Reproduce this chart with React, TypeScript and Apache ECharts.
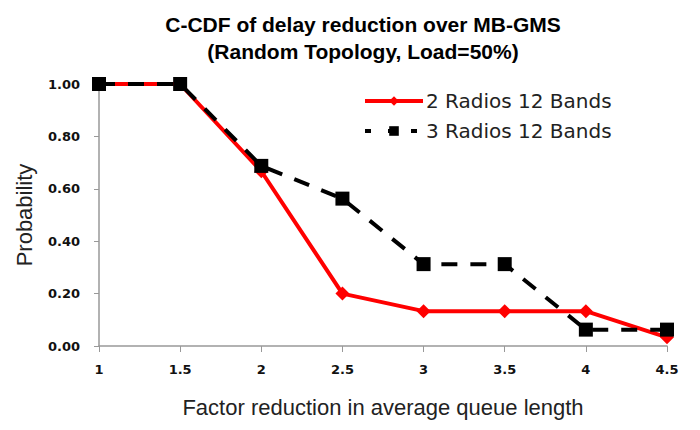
import React, { useEffect, useRef } from "react";
import * as echarts from "echarts";

const xValues = [1, 1.5, 2, 2.5, 3, 3.5, 4, 4.5];
const series2Radios = [1.0, 1.0, 0.667, 0.2, 0.133, 0.133, 0.133, 0.033];
const series3Radios = [1.0, 1.0, 0.6875, 0.5625, 0.3125, 0.3125, 0.0625, 0.0625];
const seriesNames = ["2 Radios 12 Bands", "3 Radios 12 Bands"];
const titleLines = ["C-CDF of delay reduction over MB-GMS", "(Random Topology, Load=50%)"];

export default function App() {
  const ref = useRef<HTMLDivElement>(null);
  useEffect(() => {
    if (!ref.current) return;
    const chart = echarts.init(ref.current, null, { renderer: "svg" });
    chart.setOption({
      animation: false,
      backgroundColor: "#ffffff",
      textStyle: { fontFamily: "DejaVu Sans, sans-serif" },
      title: {
        text: titleLines.join("\n"),
        left: 358,
        textAlign: "center",
        top: 6,
        textStyle: { fontSize: 21, fontWeight: "bold", color: "#000", lineHeight: 27, fontFamily: "Liberation Sans, Arial, sans-serif" },
      },
      legend: {
        orient: "vertical",
        left: 358,
        top: 86,
        itemWidth: 58,
        itemHeight: 12,
        itemGap: 10,
        textStyle: { fontSize: 20, color: "#222", fontFamily: "DejaVu Sans, sans-serif", padding: [0, 0, 0, -2] },
        data: [
          { name: seriesNames[0], lineStyle: { width: 4, color: "#ff0000" } },
          { name: seriesNames[1], lineStyle: { width: 4, color: "#000000", type: [6, 17] } },
        ],
      },
      grid: { left: 99, right: 33, top: 84, bottom: 84 },
      xAxis: {
        type: "value",
        min: 1,
        max: 4.5,
        interval: 0.5,
        name: "Factor reduction in average queue length",
        nameLocation: "middle",
        nameGap: 50,
        nameTextStyle: { fontSize: 22, color: "#222", fontFamily: "Liberation Sans, Arial, sans-serif" },
        axisLine: { lineStyle: { color: "#999", width: 1.5 } },
        axisTick: { show: true, length: 6, lineStyle: { color: "#999" } },
        axisLabel: { fontSize: 13, color: "#111", margin: 17, fontFamily: "DejaVu Sans, sans-serif", fontWeight: "bold" },
        splitLine: { show: false },
      },
      yAxis: {
        type: "value",
        min: 0,
        max: 1,
        interval: 0.2,
        name: "Probability",
        nameLocation: "middle",
        nameGap: 64,
        nameTextStyle: { fontSize: 22, color: "#222", fontFamily: "Liberation Sans, Arial, sans-serif" },
        axisLine: { show: true, lineStyle: { color: "#999", width: 1.5 } },
        axisTick: { show: true, length: 5, lineStyle: { color: "#999" } },
        axisLabel: { fontSize: 13, color: "#111", margin: 19, formatter: (v: number) => v.toFixed(2), fontFamily: "DejaVu Sans, sans-serif", fontWeight: "bold" },
        splitLine: { show: false },
      },
      series: [
        {
          name: seriesNames[0],
          type: "line",
          data: xValues.map((x, i) => [x, series2Radios[i]]),
          symbol: "diamond",
          symbolSize: 14,
          lineStyle: { color: "#ff0000", width: 4 },
          itemStyle: { color: "#ff0000" },
          z: 2,
        },
        {
          name: seriesNames[1],
          type: "line",
          data: xValues.map((x, i) => [x, series3Radios[i]]),
          symbol: "rect",
          symbolSize: 14,
          lineStyle: { color: "#000000", width: 4, type: [16, 13] },
          itemStyle: { color: "#000000" },
          z: 3,
        },
      ],
    });
    return () => chart.dispose();
  }, []);
  return <div ref={ref} style={{ width: 700, height: 430, position: "absolute", left: 0, top: 0 }} />;
}
